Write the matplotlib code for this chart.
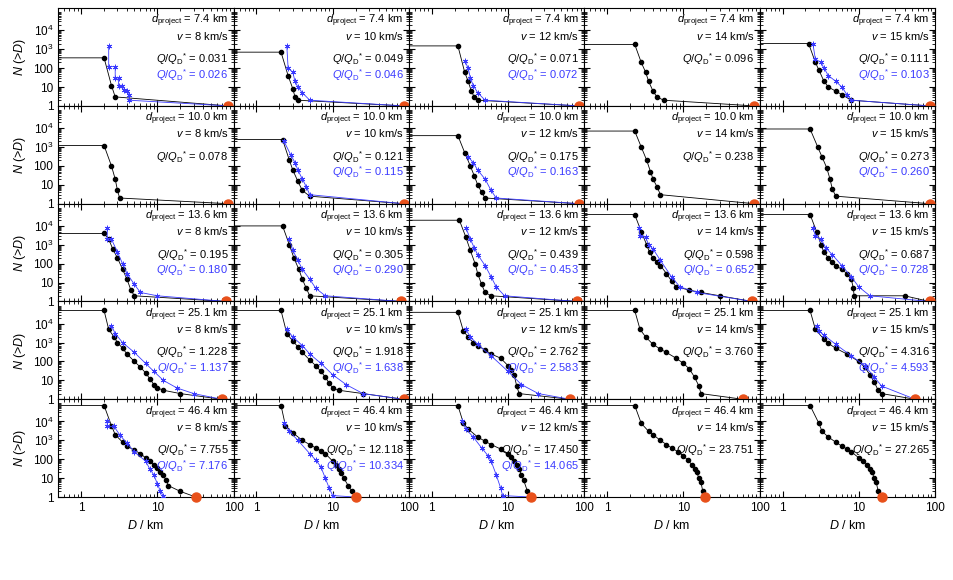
import numpy as np
import matplotlib.pyplot as plt
from matplotlib.ticker import LogLocator, FixedLocator, NullFormatter, FuncFormatter

plt.rcParams["font.family"] = "Liberation Sans"
plt.rcParams["mathtext.fontset"] = "custom"
plt.rcParams["mathtext.rm"] = "Liberation Sans"
plt.rcParams["mathtext.it"] = "Liberation Sans:italic"

d_project = [7.4, 10.0, 13.6, 25.1, 46.4]
speeds = [8, 10, 12, 14, 15]

q_black = [
    [0.031, 0.049, 0.071, 0.096, 0.111],
    [0.078, 0.121, 0.175, 0.238, 0.273],
    [0.195, 0.305, 0.439, 0.598, 0.687],
    [1.228, 1.918, 2.762, 3.760, 4.316],
    [7.755, 12.118, 17.450, 23.751, 27.265],
]
q_blue = [
    [0.026, 0.046, 0.072, None, 0.103],
    [None, 0.115, 0.163, None, 0.260],
    [0.180, 0.290, 0.453, 0.652, 0.728],
    [1.137, 1.638, 2.583, None, 4.593],
    [7.176, 10.334, 14.065, None, None],
]

# largest remnant diameter (orange dot, N = 1)
d_largest = [
    [85, 85, 85, 85, 85],
    [85, 85, 85, 85, 85],
    [80, 80, 80, 80, 85],
    [70, 85, 65, 60, 55],
    [32, 20, 20, 19, 20],
]

# black SPH fragment distributions: (D, N) pairs
black = [
    [
        [(2.0, 350), (2.5, 12), (2.8, 3)],
        [(2.1, 700), (2.6, 40), (3.0, 8), (3.2, 3), (3.5, 2)],
        [(2.2, 1500), (2.7, 60), (3.0, 20), (3.3, 6), (3.6, 3), (4.0, 2)],
        [(2.3, 1800), (2.8, 200), (3.2, 60), (3.5, 20), (4.0, 6), (4.5, 3), (5.5, 2)],
        [(2.2, 2000), (2.7, 200), (3.0, 80), (3.5, 20), (4.0, 10), (5.0, 6), (6.0, 4), (8.0, 2)],
    ],
    [
        [(2.0, 1200), (2.5, 100), (2.8, 20), (3.0, 5), (3.2, 2)],
        [(2.2, 2500), (2.7, 200), (3.0, 60), (3.5, 15), (4.0, 5), (5.0, 2.5)],
        [(2.2, 4000), (2.7, 500), (3.2, 100), (3.6, 30), (4.0, 10), (4.5, 4), (5.0, 2)],
        [(2.3, 7000), (2.8, 1000), (3.3, 200), (3.7, 50), (4.0, 20), (4.5, 8), (5.0, 3)],
        [(2.3, 9000), (2.9, 1000), (3.3, 300), (3.8, 80), (4.2, 20), (4.5, 6), (5.0, 2.5)],
    ],
    [
        [(2.0, 4000), (2.3, 2000), (2.6, 600), (3.0, 200), (3.5, 50), (4.0, 15), (4.5, 4), (5.0, 2)],
        [(2.2, 10000), (2.7, 1000), (3.1, 200), (3.6, 50), (4.0, 15), (4.5, 5), (5.0, 2)],
        [(2.3, 20000), (2.8, 2500), (3.2, 500), (3.7, 100), (4.0, 30), (4.5, 8), (5.0, 3), (6.0, 2)],
        [(2.3, 40000), (2.8, 5000), (3.3, 1000), (3.6, 400), (4.0, 200), (4.5, 120), (5.0, 80),
         (6.0, 30), (7.0, 12), (8.0, 6), (12, 4), (17, 3), (30, 2)],
        [(2.3, 40000), (2.8, 5000), (3.2, 1000), (3.5, 400), (4.0, 200), (4.5, 120), (5.0, 80),
         (6.0, 50), (7.0, 30), (8.0, 15), (8.5, 5), (8.7, 2), (40, 2)],
    ],
    [
        [(2.0, 50000), (2.3, 5000), (2.7, 2000), (3.0, 1000), (3.5, 500), (4.0, 250), (5.0, 100),
         (6.0, 50), (7.0, 25), (8.0, 12), (9.0, 6), (10, 4), (12, 3), (20, 2)],
        [(2.1, 50000), (2.5, 3000), (3.0, 1200), (3.5, 600), (4.0, 300), (5.0, 120), (6.0, 60),
         (7.0, 30), (8.0, 15), (9.0, 7), (10, 4), (12, 3), (25, 2)],
        [(2.2, 40000), (2.6, 4000), (3.0, 2000), (3.5, 1000), (4.0, 700), (5.0, 400), (6.0, 250),
         (8.0, 150), (10, 60), (11, 35), (12, 20), (13, 5), (14, 2)],
        [(2.3, 50000), (2.7, 5000), (3.2, 2000), (4.0, 800), (5.0, 450), (6.0, 300), (8.0, 150),
         (10, 80), (12, 40), (14, 15), (16, 5), (17, 2)],
        [(2.3, 50000), (2.7, 5000), (3.5, 1500), (4.0, 900), (5.0, 500), (7.0, 250), (10, 100),
         (12, 50), (14, 20), (16, 8), (18, 3), (20, 2)],
    ],
    [
        [(2.0, 70000), (2.5, 6000), (2.8, 2000), (3.5, 800), (4.0, 500), (5.0, 300), (6.0, 200),
         (7.0, 120), (8.0, 80), (9.0, 50), (10, 35), (11, 20), (12, 14), (13, 8), (14, 4), (20, 2)],
        [(2.1, 70000), (2.4, 6000), (3.0, 2500), (4.0, 1000), (5.0, 600), (6.0, 400), (7.0, 280),
         (8.0, 200), (10, 80), (11, 50), (12, 30), (13, 18), (14, 10), (16, 4), (18, 2)],
        [(2.2, 70000), (2.6, 8000), (3.0, 4000), (4.0, 1500), (5.0, 900), (6.0, 600), (8.0, 350),
         (10, 200), (11, 130), (12, 80), (13, 50), (14, 30), (15, 15), (16, 8), (18, 2)],
        [(2.3, 70000), (2.8, 8000), (3.5, 3000), (4.0, 2000), (5.0, 1000), (6.0, 600), (7.0, 400),
         (8.5, 250), (10, 150), (11.5, 90), (13, 50), (14, 30), (15, 20), (16, 10), (17, 6), (18, 2)],
        [(2.3, 70000), (3.0, 8000), (3.3, 3000), (4.0, 1500), (5.0, 800), (6.0, 500), (7.0, 350),
         (8.0, 250), (10, 120), (11.5, 80), (13, 50), (14, 30), (15, 20), (16, 10), (17, 6), (18, 2)],
    ],
]

# blue comparison distributions: (D, N) pairs
blue = [
    [
        [(2.3, 1500), (2.3, 120), (2.8, 120), (2.8, 30), (3.1, 30), (3.1, 12), (3.4, 12), (3.6, 7),
         (4.0, 6), (4.2, 4), (4.3, 2)],
        [(2.5, 1500), (2.6, 100), (3.0, 60), (3.2, 20), (3.5, 10), (4.0, 5), (5.0, 2)],
        [(2.7, 250), (3.0, 100), (3.2, 30), (3.5, 12), (4.0, 5), (5.0, 2)],
        None,
        [(2.5, 2000), (2.7, 300), (3.2, 200), (3.5, 100), (4.0, 40), (5.0, 20), (6.0, 10), (7.0, 4),
         (8.0, 2)],
    ],
    [
        None,
        [(2.3, 2000), (2.8, 400), (3.2, 150), (3.5, 60), (4.0, 20), (4.5, 8), (5.0, 3)],
        [(3.0, 300), (3.5, 150), (4.0, 60), (5.0, 20), (6.0, 5), (7.0, 2)],
        None,
        None,
    ],
    [
        [(2.2, 8000), (2.2, 2000), (2.5, 2000), (3.0, 400), (3.5, 100), (4.0, 30), (5.0, 8),
         (6.0, 3), (10, 2)],
        [(2.7, 2000), (3.0, 500), (3.5, 150), (4.0, 50), (5.0, 15), (6.0, 5), (8.0, 2)],
        [(2.8, 8000), (3.2, 2000), (3.6, 700), (4.0, 300), (5.0, 80), (6.0, 20), (7.0, 6), (9.0, 2)],
        [(2.6, 8000), (2.7, 3000), (3.2, 2500), (3.5, 1000), (4.0, 600), (5.0, 150), (7.0, 20),
         (9.0, 6), (15, 3)],
        [(2.5, 8000), (2.7, 3000), (3.2, 2000), (3.7, 700), (4.5, 300), (6.0, 80), (8.0, 20),
         (10, 6), (14, 2)],
    ],
    [
        [(2.5, 8000), (2.8, 3000), (3.5, 1000), (5.0, 300), (7.0, 80), (9.0, 30), (12, 10), (18, 4),
         (30, 2)],
        [(2.5, 5000), (3.0, 2000), (4.0, 700), (5.0, 250), (7.0, 80), (10, 20), (15, 6), (25, 2)],
        [(2.8, 5000), (3.2, 2000), (4.0, 800), (6.0, 200), (10, 30), (15, 6), (25, 2)],
        None,
        [(2.8, 8000), (3.0, 4000), (3.5, 2500), (5.0, 800), (8.0, 200), (12, 60), (16, 15), (20, 5)],
    ],
    [
        [(2.2, 10000), (2.2, 5500), (2.7, 5500), (3.2, 2000), (4.0, 700), (5.0, 250), (7.0, 80),
         (8.0, 30), (9.0, 15), (10, 5), (11, 2), (12, 1.1)],
        [(2.3, 8000), (2.7, 3000), (3.5, 1000), (5.0, 200), (6.0, 90), (7.0, 40), (8.0, 10),
         (9.0, 3), (10, 1.2)],
        [(2.5, 10000), (2.8, 4000), (3.5, 1500), (4.5, 400), (5.5, 150), (6.0, 80), (7.0, 15),
         (8.0, 3), (8.5, 1.2)],
        None,
        None,
    ],
]

BLUE = "#3a3aff"
ORANGE = "#e8501a"

fig, axes = plt.subplots(5, 5, figsize=(9.54, 5.8), dpi=100, sharex=True, sharey=True)
fig.subplots_adjust(left=0.061, right=0.98, top=0.986, bottom=0.143, hspace=0, wspace=0)

for i in range(5):
    for j in range(5):
        ax = axes[i, j]
        ax.set_xscale("log")
        ax.set_yscale("log")
        dl = d_largest[i][j]

        bd, bn = zip(*black[i][j])
        ax.plot([0.5] + list(bd) + [dl], [bn[0]] + list(bn) + [1], color="black", lw=0.6, zorder=2)
        ax.plot(bd, bn, "o", color="black", ms=3, zorder=3)

        if blue[i][j] is not None:
            ud, un = zip(*blue[i][j])
            ud, un = list(ud), list(un)
            if un[-1] > 1.15:
                ud.append(dl)
                un.append(1)
            ax.plot(ud, un, color=BLUE, lw=0.6, marker=(6, 2, 0), ms=4, mew=0.6, zorder=4)

        ax.plot([dl], [1], "o", color=ORANGE, ms=6.5, clip_on=False, zorder=6)

        fs = 8
        ax.text(0.97, 0.95, r"$d_{\rm project}$ = %.1f km" % d_project[i], transform=ax.transAxes,
                ha="right", va="top", fontsize=fs)
        ax.text(0.97, 0.78, r"$v$ = %d km/s" % speeds[j], transform=ax.transAxes,
                ha="right", va="top", fontsize=fs)
        ax.text(0.97, 0.56, r"$Q/Q_{\rm D}{}^{*}$ = %.3f" % q_black[i][j], transform=ax.transAxes,
                ha="right", va="top", fontsize=fs)
        if q_blue[i][j] is not None:
            ax.text(0.97, 0.40, r"$Q/Q_{\rm D}{}^{*}$ = %.3f" % q_blue[i][j], transform=ax.transAxes,
                    ha="right", va="top", fontsize=fs, color=BLUE)

        ax.tick_params(which="both", direction="in", top=True, right=True, labelsize=8.5)
        ax.tick_params(which="major", length=4)
        ax.tick_params(which="minor", length=2)
        if j == 0:
            ax.set_ylabel(r"$N$ (>$D$)", fontsize=9)
        if i == 4:
            ax.set_xlabel(r"$D$ / km", fontsize=9)


def ylab(v, pos):
    if v >= 1000:
        return r"$10^{%d}$" % round(np.log10(v))
    return "%d" % v


ax0 = axes[0, 0]
ax0.set_xlim(0.5, 100)
ax0.set_ylim(1, 1.5e5)
ax0.yaxis.set_major_locator(FixedLocator([1, 10, 100, 1e3, 1e4]))
ax0.yaxis.set_minor_locator(LogLocator(base=10, subs=np.arange(2, 10), numticks=20))
ax0.yaxis.set_major_formatter(FuncFormatter(ylab))
ax0.yaxis.set_minor_formatter(NullFormatter())
ax0.xaxis.set_major_locator(FixedLocator([1, 10, 100]))
ax0.xaxis.set_minor_locator(LogLocator(base=10, subs=np.arange(2, 10), numticks=20))
ax0.xaxis.set_major_formatter(FuncFormatter(lambda v, p: "%d" % v))
ax0.xaxis.set_minor_formatter(NullFormatter())

fig.savefig("out.png", dpi=100)
